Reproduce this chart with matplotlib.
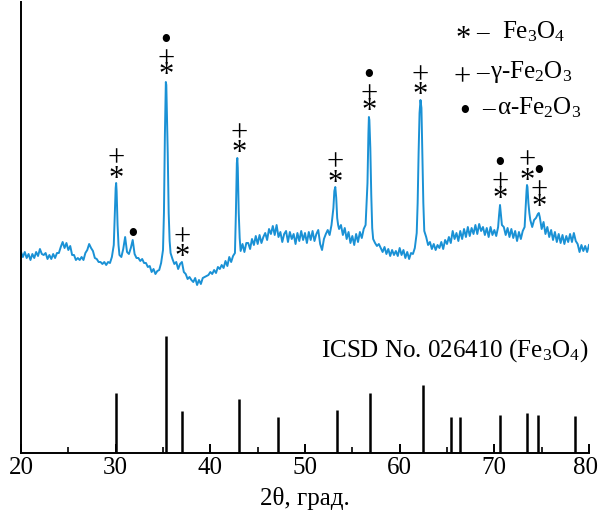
import numpy as np
import matplotlib
matplotlib.use("Agg")
import matplotlib.pyplot as plt
from matplotlib.ticker import MultipleLocator
from matplotlib.transforms import ScaledTranslation

plt.rcParams['font.family'] = ['Liberation Serif', 'DejaVu Serif']
plt.rcParams['mathtext.fontset'] = 'custom'
plt.rcParams['mathtext.rm'] = 'Liberation Serif'
plt.rcParams['mathtext.it'] = 'Liberation Serif:italic'

# measured pattern, scan step 0.2 deg (20..80), counts shifted up above the reference bars
scan_start, scan_step = 20.0, 0.2
scan_counts = [
    201, 196, 201, 195, 199, 193, 199, 195, 201, 197,
    204, 199, 198, 200, 194, 198, 194, 199, 195, 200,
    200, 206, 211, 205, 210, 203, 207, 198, 198, 193,
    195, 193, 196, 193, 200, 203, 209, 205, 202, 195,
    194, 191, 191, 189, 191, 188, 191, 190, 196, 208,
    265, 228, 198, 196, 204, 216, 201, 199, 205, 213,
    199, 195, 195, 192, 194, 190, 190, 186, 187, 181,
    184, 179, 182, 183, 190, 203, 318, 345, 240, 200,
    194, 189, 191, 184, 189, 191, 181, 179, 174, 176,
    173, 171, 175, 168, 173, 169, 175, 176, 177, 178,
    181, 179, 183, 180, 186, 184, 188, 185, 192, 187,
    196, 191, 197, 200, 290, 240, 202, 209, 201, 210,
    210, 204, 214, 208, 217, 209, 218, 210, 216, 220,
    213, 224, 219, 227, 218, 228, 216, 221, 211, 219,
    222, 211, 221, 214, 219, 209, 220, 212, 222, 213,
    220, 210, 221, 213, 222, 212, 219, 223, 209, 203,
    214, 219, 223, 218, 228, 245, 266, 235, 224, 228,
    218, 225, 214, 221, 210, 217, 208, 219, 211, 221,
    215, 224, 228, 270, 333, 258, 214, 210, 207, 209,
    205, 201, 206, 199, 204, 197, 203, 198, 202, 197,
    205, 198, 203, 195, 201, 194, 200, 199, 205, 220,
    300, 353, 300, 222, 216, 208, 211, 204, 209, 203,
    208, 205, 211, 204, 213, 209, 216, 210, 222, 214,
    220, 212, 222, 214, 224, 216, 226, 217, 225, 219,
    228, 219, 229, 222, 226, 218, 225, 216, 226, 218,
    223, 217, 226, 248, 228, 226, 218, 225, 216, 224,
    215, 222, 212, 221, 214, 222, 226, 262, 250, 233,
    226, 233, 235, 239, 236, 224, 231, 219, 226, 216,
    223, 213, 221, 211, 219, 210, 218, 209, 217, 211,
    219, 211, 220, 212, 209, 201, 208, 202, 207, 201,
    208,
]
# extra points across the sharp reflections
peak_theta = [29.9, 30.05, 30.1, 30.3, 35.1, 35.3, 35.35, 35.5, 35.7,
              42.7, 42.85, 42.9, 43.1, 53.1, 53.3, 53.5, 56.7, 56.75, 56.9, 57.1,
              61.9, 62.1, 62.3, 62.5, 70.5, 70.7, 73.3, 73.45, 73.5, 73.7, 74.7]
peak_counts = [235, 270, 262, 208, 240, 371, 368, 300, 212,
               240, 295, 285, 215, 262, 255, 228, 320, 336, 305, 225,
               250, 340, 345, 250, 238, 238, 245, 268, 266, 240, 240]

# ICSD No. 026410 (Fe3O4) line positions and relative intensities
icsd_theta = [30.05, 35.35, 37.0, 43.05, 47.1, 53.4, 56.9, 62.5,
              65.4, 66.4, 70.6, 73.5, 74.6, 78.5]
icsd_rel = [51.5, 100, 36, 46.5, 31, 37, 51, 58,
            31, 30.4, 32.7, 34.6, 32.4, 31.3]

# phase marks over the reflections: * Fe3O4, + gamma-Fe2O3, • alpha-Fe2O3
mark_theta = [30.05, 35.3, 37.0, 43.0, 53.2, 56.75, 62.2, 70.6, 73.45, 74.7]
mark_phases = ['*+', '*+•', '*+', '*+', '*+', '*+•', '*+', '*+•', '*+', '*+•']
alpha_only_theta = [31.8]

scan_theta = scan_start + scan_step * np.arange(len(scan_counts))
theta = np.concatenate([scan_theta, peak_theta])
counts = np.concatenate([scan_counts, peak_counts])
order = np.argsort(theta)
theta, counts = theta[order], counts[order]

stick_scale = 1.17

fig = plt.figure(figsize=(5.98, 5.12), dpi=100)
ax = fig.add_axes([21 / 598, 59 / 512, 568 / 598, 451 / 512])

ax.plot(theta, counts, color='#1a91d5', lw=1.4)
ax.vlines(icsd_theta, 0, np.array(icsd_rel) * stick_scale, colors='black', lw=1.8)

ax.set_xlim(20, 80)
ax.set_ylim(0, 451)
ax.spines['top'].set_visible(False)
ax.spines['right'].set_visible(False)
ax.spines['left'].set_linewidth(1.4)
ax.spines['bottom'].set_linewidth(1.4)
ax.set_yticks([])
ax.set_xticks(range(20, 81, 10))
ax.xaxis.set_minor_locator(MultipleLocator(5))
ax.tick_params(axis='x', which='major', direction='in', length=6.5, width=1.4,
               labelsize=18, pad=3)
ax.tick_params(axis='x', which='minor', direction='in', length=4.3, width=1.2)
ax.set_xlabel('2θ, град.', fontsize=18, labelpad=6)
# keep the last tick label inside the figure
last = ax.get_xticklabels()[-1]
last.set_transform(last.get_transform() + ScaledTranslation(-0.04, 0, fig.dpi_scale_trans))

px = 0.72  # points per pixel
sym_size = {'*': 22, '+': 22, '•': 22}
sym_shift = {'*': 7.0, '+': 5.5, '•': 4.3}  # glyph ink sits above its box centre


def local_top(x0):
    sel = np.abs(theta - x0) <= 0.15
    return counts[sel].max()


def put(sym, x0, top, off):
    ax.annotate(sym, (x0, top), xytext=(0, (off - sym_shift[sym]) * px),
                textcoords='offset points', ha='center', va='center',
                fontsize=sym_size[sym])


for x0, phases in zip(mark_theta, mark_phases):
    top = local_top(x0)
    triple = '•' in phases
    off = 13 if triple else 11
    put('*', x0, top, off)
    off += 14.5 if triple else 18.5
    put('+', x0, top, off)
    if triple:
        off += 17
        put('•', x0, top, off)

for x0 in alpha_only_theta:
    put('•', x0, local_top(x0), 9)

legend_rows = ['*', '+', '•']
legend_names = ['Fe$_3$O$_4$', 'γ-Fe$_2$O$_3$', 'α-Fe$_2$O$_3$']
legend_y = [421, 381, 345]       # px above the x axis
legend_sym_x = [463, 462, 465]
legend_dash_x = [482, 482, 488]
legend_name_x = [502, 490, 497]
to_ax_x = lambda p: (p - 21) / 568
for i, sym in enumerate(legend_rows):
    yy = legend_y[i] / 451
    ax.text(to_ax_x(legend_sym_x[i]), yy - sym_shift[sym] / 451, sym,
            transform=ax.transAxes, ha='center', va='center', fontsize=sym_size[sym])
    ax.text(to_ax_x(legend_dash_x[i]), yy, '–', transform=ax.transAxes,
            ha='center', va='center', fontsize=18)
    ax.text(to_ax_x(legend_name_x[i]), yy, legend_names[i], transform=ax.transAxes,
            ha='left', va='center', fontsize=18)

ax.text(0.998, 0.228, 'ICSD No. 026410 (Fe$_3$O$_4$)', transform=ax.transAxes,
        ha='right', va='center', fontsize=18)

fig.savefig('out.png', dpi=100)
